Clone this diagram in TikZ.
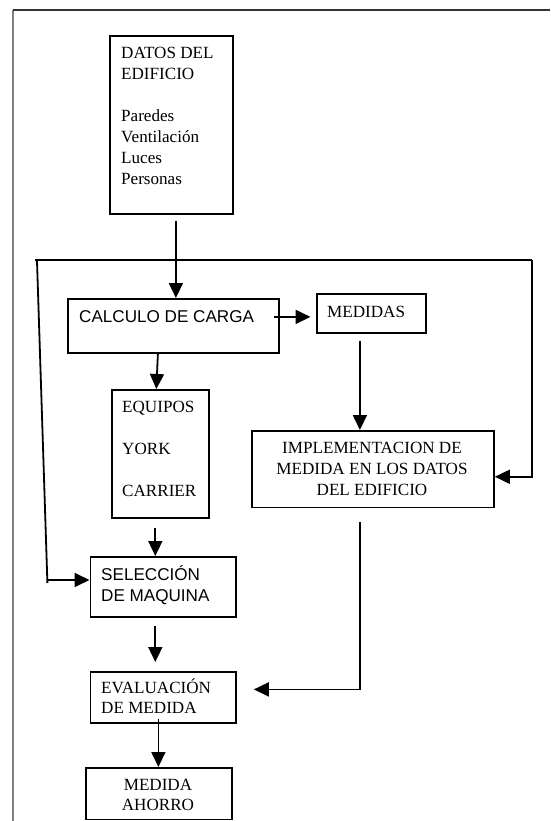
\documentclass[tikz,border=0pt]{standalone}
\usepackage{fontspec}
\setmainfont{Liberation Serif}
\setsansfont{Liberation Sans}
\usetikzlibrary{arrows.meta}
\begin{document}
\begin{tikzpicture}[x=1pt, y=-1pt,
    box/.style={draw, line width=1.8pt, inner sep=0pt, anchor=north west},
    txt/.style={inner sep=0pt, anchor=base west, align=left,
      font=\fontsize{17.1}{21}\selectfont},
    line/.style={line width=1.8pt},
    arr/.style={line width=1.8pt, -{Triangle[length=15pt, width=14pt]}}]
  \useasboundingbox (0,0) rectangle (550,821);
  \draw[gray, line width=2.2pt] (13,10) -- (13,821);
  \draw[black!80, line width=1.6pt] (13,10) -- (550,10);

  \node[box, minimum width=123pt, minimum height=178pt] (datos) at (109,35) {};
  \node[box, minimum width=211pt, minimum height=54pt] (calc) at (67,298) {};
  \node[box, minimum width=109pt, minimum height=39pt] (medidas) at (316,293) {};
  \node[box, minimum width=97pt, minimum height=128pt] (equipos) at (111,389) {};
  \node[box, minimum width=242pt, minimum height=76.5pt] (impl) at (251,430) {};
  \node[box, minimum width=145.5pt, minimum height=60pt] (selec) at (89.5,556) {};
  \node[box, minimum width=145.5pt, minimum height=51pt] (eval) at (89.5,671) {};
  \node[box, minimum width=146pt, minimum height=51.5pt] (ahorro) at (85,767) {};

  \node[txt] (datostxt) at (121,185) {DATOS DEL\\EDIFICIO\\[21pt]Paredes\\Ventilación\\Luces\\Personas};
  \node[txt, font=\fontsize{17.1}{21}\sffamily] (calctxt) at (79,322) {CALCULO DE CARGA};
  \node[txt] (medidastxt) at (327,317) {MEDIDAS};
  \node[txt] (equipostxt) at (122,496.7) {EQUIPOS\\[21pt]YORK\\[21pt]CARRIER};
  \node[txt, anchor=base, align=center] (impltxt) at (372,495.6) {IMPLEMENTACION DE\\MEDIDA EN LOS DATOS\\DEL EDIFICIO};
  \node[txt, font=\fontsize{17.1}{21}\sffamily] (selectxt) at (101,601) {SELECCIÓN\\DE MAQUINA};
  \node[txt] (evaltxt) at (101,713) {EVALUACIÓN\\[-1.5pt]DE MEDIDA};
  \node[txt, anchor=base, align=center] (ahorrotxt) at (158,810.5) {MEDIDA\\[-1pt]AHORRO};

  \coordinate (d1) at ([shift={(4.5pt,-6pt)}]datos.south);
  \coordinate (loopl) at (35,260);
  \coordinate (loopr) at (532,260);
  \coordinate (lefttop) at (37,261);
  \coordinate (leftbot) at (47.4,583);
  \coordinate (leftjoin) at (47.2,580);
  \coordinate (c1) at ([shift={(-6pt,9pt)}]calc.east);
  \coordinate (m1) at ([xshift=-11.5pt]medidas.south);
  \coordinate (e1) at ([xshift=-5.1pt]equipos.south);
  \coordinate (s1) at (e1 |- selec.south);
  \coordinate (i1) at ([xshift=-13pt]impl.south);
  \coordinate (v1) at ([shift={(-4.75pt,5pt)}]eval.south);

  \draw[arr] (d1) -- (d1 |- calc.north);
  \draw[line] (loopl) -- (loopr);
  \draw[line] (lefttop) -- (leftbot);
  \draw[arr] (leftjoin) -- (leftjoin -| selec.west);
  \draw[arr] (loopr) |- ([yshift=-7.6pt]impl.east);
  \draw[arr, shorten >=5.5pt] (c1) -- (c1 -| medidas.west);
  \draw[arr, shorten <=7pt] (m1) -- (m1 |- impl.north);
  \draw[arr] ([xshift=-15.5pt]calc.south) -- ([xshift=-4.1pt]equipos.north);
  \draw[arr, shorten <=9.5pt] (e1) -- (e1 |- selec.north);
  \draw[arr, shorten <=8.6pt, shorten >=9pt] (s1) -- (s1 |- eval.north);
  \draw[arr, shorten <=13.5pt, shorten >=17pt] (i1) |- ([yshift=8pt]eval.east);
  \draw[arr] (v1) -- (v1 |- ahorro.north);
\end{tikzpicture}
\end{document}
